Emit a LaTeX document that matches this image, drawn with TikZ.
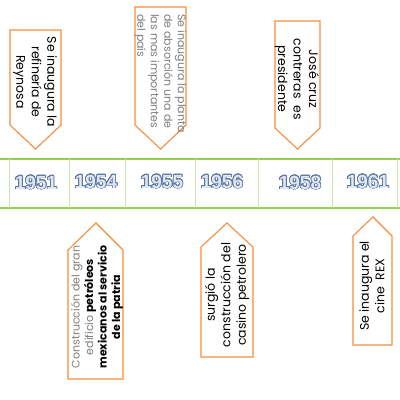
\documentclass[tikz,border=0pt]{standalone}
\usepackage{fontspec}
\setmainfont{Poppins}
\newfontfamily\yearfont{Liberation Sans}
\usepackage{contour}
\contourlength{0.7pt}
\definecolor{tlorange}{RGB}{247,140,60}
\definecolor{tlgreen}{RGB}{146,208,80}
\definecolor{tlsep}{RGB}{200,232,170}
\definecolor{tlyear}{RGB}{222,232,245}
\definecolor{tlyearline}{RGB}{90,115,155}
\definecolor{tlgray}{RGB}{125,125,125}
\usetikzlibrary{positioning}
\tikzset{
  callout/.style={draw=tlorange,line width=1.1pt,line join=miter},
  yr/.style={font=\yearfont\fontsize{19}{19}\selectfont\bfseries,inner sep=0pt},
  boxtext/.style={align=center,inner sep=0pt,font=\fontsize{12.5}{15.5}\selectfont},
  smalltext/.style={font=\fontsize{11}{13.5}\selectfont}
}
\newcommand{\yearlbl}[1]{\contour{tlyearline}{\textcolor{tlyear}{#1}}}

\begin{document}
\begin{tikzpicture}[x=1pt,y=-1pt]
  \useasboundingbox (0,0) rectangle (400,400);
  % timeline band
  \draw[tlgreen,line width=1.4pt] (0,159) -- (400,159);
  \draw[tlgreen,line width=1.4pt] (0,208) -- (400,208);
  \foreach \sx in {9,69,125,195,258,332,397}
    \draw[tlsep,line width=0.9pt] (\sx,159) -- (\sx,208);
  \node[yr] (y1951) at (36,183) {\yearlbl{1951}};
  \node[yr] (y1954) at (96,182) {\yearlbl{1954}};
  \node[yr] (y1955) at (162,182) {\yearlbl{1955}};
  \node[yr] (y1956) at (222,182) {\yearlbl{1956}};
  \node[yr] (y1958) at (300,183) {\yearlbl{1958}};
  \node[yr] (y1961) at (368,182) {\yearlbl{1961}};

  % callouts above
  \draw[callout] (10,30) -- (61,30) -- (61,125) -- (35.5,149) -- (10,125) -- cycle;
  \node[boxtext,rotate=-90] (refineria) at (35,82) {Se inaugura la\\refinería de\\Reynosa};
  \draw[callout] (135,7) -- (186,7) -- (186,125) -- (160.5,149) -- (135,125) -- cycle;
  \node[boxtext,smalltext,rotate=-90,anchor=west,align=left,text=tlgray] (planta) at (160.5,14)
    {Se inaugura la planta\\de absorción una de\\las mas importantes\\del país};
  \draw[callout] (275,21) -- (320,21) -- (320,128) -- (297.5,149) -- (275,128) -- cycle;
  \node[boxtext,rotate=-90] (cruz) at (297,79) {José cruz\\contreras\ \ es\\presidente};

  % callouts below
  \draw[callout] (68,379) -- (68,250) -- (96,223) -- (123,250) -- (123,379) -- cycle;
  \node[boxtext,smalltext,rotate=90] (edificio) at (97,307)
    {\textcolor{tlgray}{Construcción del gran}\\\textcolor{tlgray}{edificio} \textbf{petróleos}\\\textbf{mexicanos al servicio}\\\textbf{de la patria}};
  \draw[callout] (201,357) -- (201,247) -- (227,223) -- (253,247) -- (253,357) -- cycle;
  \node[boxtext,rotate=90] (casino) at (227,295) {surgió la\\construcción del\\casino petrolero};
  \draw[callout] (353,345) -- (353,236) -- (373,217) -- (392,236) -- (392,345) -- cycle;
  \node[boxtext,rotate=90] (cine) at (372,286) {Se inaugura el\\cine\ \ REX};
\end{tikzpicture}
\end{document}
